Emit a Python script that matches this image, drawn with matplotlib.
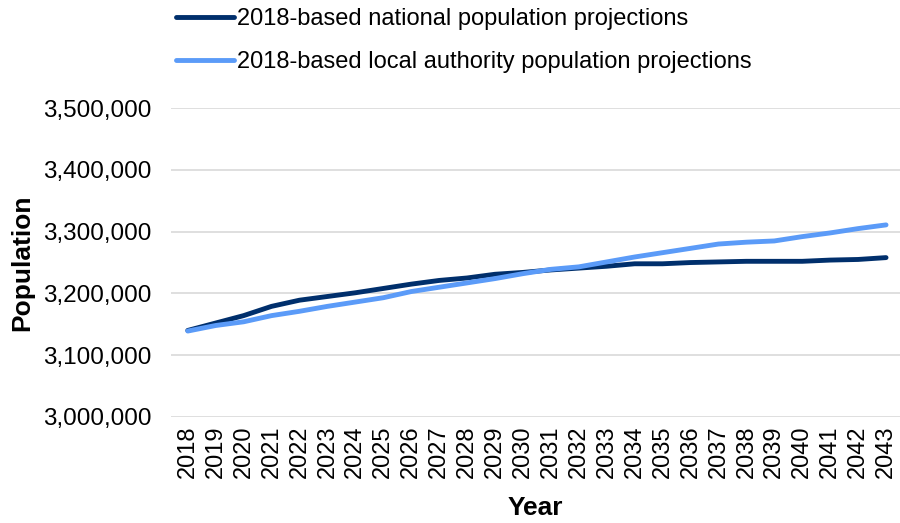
import matplotlib.pyplot as plt
from matplotlib.ticker import FuncFormatter, MultipleLocator

plt.rcParams['font.family'] = ['Liberation Sans', 'DejaVu Sans']

# Projected population, 2018-2043
years = list(range(2018, 2044))
national = [3140000, 3152000, 3164000, 3179000, 3189000, 3195000, 3201000,
            3208000, 3215000, 3221000, 3225000, 3231000, 3234000, 3238000,
            3241000, 3244000, 3248000, 3248000, 3250000, 3251000, 3252000,
            3252000, 3252000, 3254000, 3255000, 3258000]
local_authority = [3139000, 3148000, 3154000, 3164000, 3171000, 3179000,
                   3186000, 3193000, 3203000, 3210000, 3217000, 3224000,
                   3232000, 3239000, 3243000, 3251000, 3259000, 3266000,
                   3273000, 3280000, 3283000, 3285000, 3292000, 3298000,
                   3305000, 3311000]

NATIONAL_COLOR = "#002f6c"
LOCAL_COLOR = "#5b9bf8"

fig = plt.figure(figsize=(9, 5.23), dpi=100)
ax = fig.add_axes([0.19, 0.203, 0.81, 0.59])

ax.plot(years, national, color=NATIONAL_COLOR, lw=3.5, solid_capstyle="round",
        label="2018-based national population projections")
ax.plot(years, local_authority, color=LOCAL_COLOR, lw=3.5, solid_capstyle="round",
        label="2018-based local authority population projections")

ax.set_ylim(3000000, 3500000)
ax.set_xlim(2017.4, 2043.5)
ax.yaxis.set_major_locator(MultipleLocator(100000))
ax.yaxis.set_major_formatter(FuncFormatter(lambda v, _: f"{int(v):,}"))
ax.set_xticks(years)
ax.set_xticklabels([str(y) for y in years], rotation=90)
ax.tick_params(axis="x", length=0, labelsize=17, pad=6)
ax.tick_params(axis="y", length=0, labelsize=17.5, pad=14)
ax.grid(axis="y", color="#d9d9d9", lw=1.2)
ax.set_axisbelow(True)
for side in ax.spines.values():
    side.set_visible(False)

ax.set_xlabel("Year", fontsize=19, fontweight="bold", labelpad=13)
ax.set_ylabel("Population", fontsize=19, fontweight="bold", labelpad=6)

fig.legend(loc="upper left", bbox_to_anchor=(0.172, 1.025), frameon=False,
           fontsize=17, handlelength=2.45, handletextpad=0.12, labelspacing=0.88)

fig.savefig("out.png", dpi=100)
